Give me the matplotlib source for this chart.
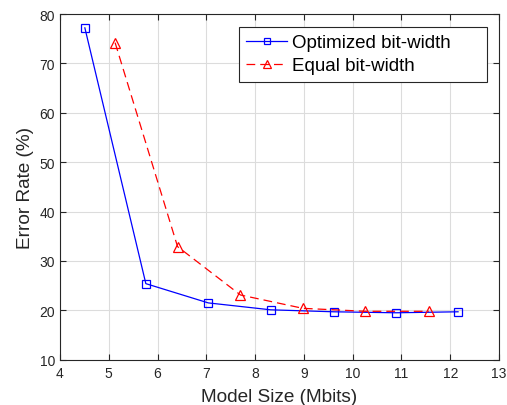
import matplotlib
matplotlib.use("Agg")
import matplotlib.pyplot as plt

plt.rcParams['font.family'] = ['Liberation Sans', 'DejaVu Sans']

opt_x = [4.51, 5.76, 7.04, 8.32, 9.61, 10.89, 12.16]
opt_y = [77.2, 25.4, 21.5, 20.1, 19.7, 19.5, 19.7]
eq_x = [5.13, 6.41, 7.70, 8.98, 10.26, 11.56]
eq_y = [74.2, 32.9, 23.1, 20.4, 19.8, 19.8]
xticks = list(range(4, 14))
yticks = list(range(10, 81, 10))

fig = plt.figure(figsize=(5.07, 4.06), dpi=100)
ax = fig.add_axes([0.1183, 0.1116, 0.866, 0.8514])

ax.plot(opt_x, opt_y, color='#0000ff', linewidth=0.9, marker='s', markersize=6,
        markerfacecolor='none', markeredgecolor='#0000ff', markeredgewidth=0.9,
        label='Optimized bit-width')
ax.plot(eq_x, eq_y, color='#ff0000', linewidth=0.9, linestyle=(0, (7, 4)), marker='^',
        markersize=7, markerfacecolor='none', markeredgecolor='#ff0000', markeredgewidth=0.9,
        label='Equal bit-width')

ax.set_xlim(4, 13)
ax.set_ylim(10, 80)
ax.set_xticks(xticks)
ax.set_yticks(yticks)
ax.grid(True, color='#dcdcdc', linewidth=0.8)
ax.set_axisbelow(True)
ax.tick_params(direction='in', top=True, right=True, labelsize=10, colors='#262626',
               length=4, width=0.8)
ax.tick_params(axis='x', pad=4.5)
for s in ax.spines.values():
    s.set_color('#262626')
    s.set_linewidth(0.8)

ax.set_xlabel('Model Size (Mbits)', fontsize=13.7, color='#262626', labelpad=5.5)
ax.set_ylabel('Error Rate (%)', fontsize=13.7, color='#262626', labelpad=4)

leg = ax.legend(loc='upper left', bbox_to_anchor=(0.4077, 0.809, 0.5655, 0.1534),
                mode='expand', fontsize=13.5, fancybox=False, framealpha=1,
                edgecolor='#262626', handlelength=2.2, markerscale=0.75,
                borderpad=0.38, labelspacing=0.32, handletextpad=0.25, borderaxespad=0)
leg.get_frame().set_linewidth(0.8)

fig.savefig('out.png', dpi=100)
